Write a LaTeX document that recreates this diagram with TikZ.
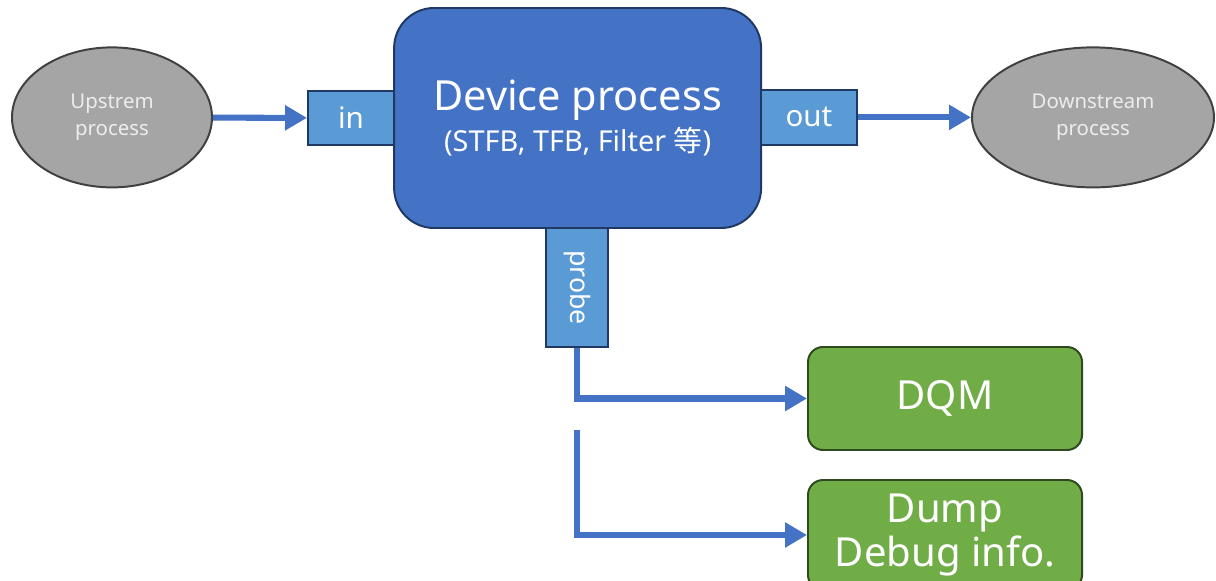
\documentclass[tikz,border=0pt]{standalone}
\usepackage{fontspec}
\setmainfont{Noto Sans}
\newfontfamily\cjk{Noto Sans CJK JP}
\usetikzlibrary{arrows.meta,shapes.geometric}
\definecolor{devblue}{HTML}{4472C4}
\definecolor{portblue}{HTML}{5B9BD5}
\definecolor{edgeblue}{HTML}{1F3864}
\definecolor{procgray}{HTML}{A5A5A5}
\definecolor{edgegray}{HTML}{404040}
\definecolor{outgreen}{HTML}{70AD47}
\definecolor{edgegreen}{HTML}{2E4A1E}
\tikzset{
  proc/.style={ellipse,draw=edgegray,line width=1.4pt,fill=procgray,text=white!93!black,
    inner sep=0pt,align=center,font=\fontsize{14.5}{19}\selectfont},
  port/.style={rectangle,draw=edgeblue,line width=1.4pt,fill=portblue,text=white,
    inner sep=0pt,font=\fontsize{21}{24}\selectfont},
  result/.style={rectangle,rounded corners=0.375cm,draw=edgegreen,line width=1.4pt,
    fill=outgreen,text=white,inner sep=0pt,align=center,font=\fontsize{28.5}{34}\selectfont},
  flow/.style={devblue,line width=4.3pt,-{Triangle[length=0.55cm,width=0.6cm]}}
}
\begin{document}
\begin{tikzpicture}
\useasboundingbox (0,0) rectangle (30.4,14.525);
\begin{scope}
\clip (0,0) rectangle (30.4,14.525);
% process chain
\node[proc,minimum width=5cm,minimum height=3.5cm] (up) at (2.8,11.59) {Upstrem\\process};
\node[port,minimum width=2.15cm,minimum height=1.35cm] (in) at (8.775,11.575) {in};
\node[rectangle,rounded corners=1cm,draw=edgeblue,line width=1.4pt,fill=devblue,text=white,
  minimum width=9.175cm,minimum height=5.5cm,align=center] (dev) at (14.44,11.575)
  {{\fontsize{29.5}{36}\selectfont Device process}\\[4pt]{\fontsize{20.5}{24}\selectfont (STFB, TFB, Filter {\cjk 等})}};
\node[port,minimum width=2.4cm,minimum height=1.375cm] (out) at (20.225,11.59) {out};
\node[proc,minimum width=6.05cm,minimum height=3.5cm] (down) at (27.325,11.59) {Downstream\\process};
\node[port,minimum width=1.55cm,minimum height=2.975cm,font=\fontsize{19}{22}\selectfont] (probe) at (14.425,7.3375) {\rotatebox{-90}{probe}};
% outputs
\node[result,minimum width=6.85cm,minimum height=2.575cm] (dqm) at (23.625,4.5625) {DQM};
\node[result,minimum width=6.85cm,minimum height=2.75cm] (dump) at (23.625,1.15) {Dump\\[-3pt]Debug info.};
\coordinate (split) at (14.425,3.775);
% arrows
\draw[flow] (up) -- (in);
\draw[flow] (out) -- (down);
\draw[flow] (probe.south) |- (dqm.west);
\draw[flow] (split) |- (dump.west);
\end{scope}
\end{tikzpicture}
\end{document}
